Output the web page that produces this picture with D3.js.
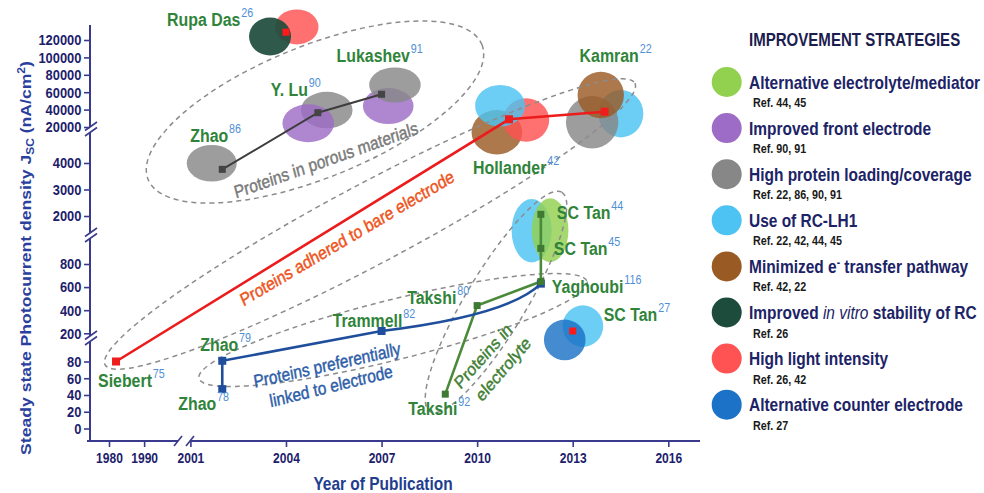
<!DOCTYPE html>
<html><head><meta charset="utf-8">
<script src="https://cdn.jsdelivr.net/npm/d3@7"></script>
<style>
body{margin:0;background:#fff}
svg{display:block}
text{font-family:"Liberation Sans",Arial,Helvetica,sans-serif}
</style>
</head><body>
<svg id="chart" width="984" height="493"></svg>
<script>
// ---------------- DATA ----------------
const xTickYears  = [1980, 1990, 2001, 2004, 2007, 2010, 2013, 2016];
const xMinorYears = [1985, 1995, 2002.5, 2005.5, 2008.5, 2011.5, 2014.5];
const yTickValues = [0, 20, 40, 60, 80, 200, 400, 600, 800, 2000, 3000, 4000, 20000, 40000, 60000, 80000, 100000, 120000];
const yMinorValues = [10, 30, 50, 70, 90, 100, 300, 500, 700, 900, 1000, 2500, 3500, 4500, 5000, 30000, 50000, 70000, 90000, 110000, 130000];

// Proteins adhered to bare electrode (red)
const redYear = [1982, 2011, 2014];
const redJsc  = [80, 28850, 37590];
const redName = ["Siebert", "Hollander", "Kamran"];
const redRef  = ["75", "42", "22"];
// Proteins in porous materials (grey)
const greyYear = [2002, 2005, 2007];
const greyJsc  = [3760, 36440, 57590];
const greyName = ["Zhao", "Y. Lu", "Lukashev"];
const greyRef  = ["86", "90", "91"];
// Proteins preferentially linked to electrode (blue)
const blueYear = [2002, 2002, 2007, 2012];
const blueJsc  = [47, 83, 220, 630];
const blueName = ["Zhao", "Zhao", "Trammell", ""];
const blueRef  = ["78", "79", "82", ""];
// Proteins in electrolyte (green)
const greenYear = [2009, 2010, 2012, 2012, 2012];
const greenJsc  = [41, 440, 648, 935, 2064];
const greenName = ["Takshi", "Takshi", "Yaghoubi", "SC Tan", "SC Tan"];
const greenRef  = ["92", "80", "116", "45", "44"];
// Single studies (red markers)
const soloYear = [2004, 2013];
const soloJsc  = [129000, 220];
const soloName = ["Rupa Das", "SC Tan"];
const soloRef  = ["26", "27"];

// Improvement-strategy bubbles
const bubbleStrategy = ["light","stability","loading","loading","front","front","loading","transfer","light","rclh1","rclh1","loading","transfer","rclh1","electrolyte","rclh1","counter"];
const bubbleYear = [2004.34, 2003.50, 2001.67, 2005.28, 2004.70, 2007.21, 2007.42, 2010.62, 2011.54, 2010.72, 2014.51, 2013.61, 2013.88, 2011.71, 2012.29, 2013.32, 2012.75];
const bubbleJsc  = [135000, 124000, 3990, 39500, 24250, 44100, 68300, 17700, 28000, 44400, 35300, 25500, 56800, 1410, 1430, 262, 172];

// Legend
const legendKeys  = ["electrolyte","front","loading","rclh1","transfer","stability","light","counter"];
const legendNames = ["Alternative electrolyte/mediator","Improved front electrode","High protein loading/coverage","Use of RC-LH1","Minimized e^- transfer pathway","Improved _in vitro_ stability of RC","High light intensity","Alternative counter electrode"];
const legendRefs  = ["Ref. 44, 45","Ref. 90, 91","Ref. 22, 86, 90, 91","Ref.  22, 42, 44, 45","Ref. 42, 22","Ref. 26","Ref. 26, 42","Ref. 27"];
const legendTitle = "IMPROVEMENT STRATEGIES";

const groupLabels = ["Proteins in porous materials", "Proteins adhered to bare electrode", "Proteins preferentially", "linked to  electrode", "Proteins in", "electrolyte"];

// ---------------- STYLE / LAYOUT ----------------
const SQ = 0.86;
const AXIS = "#3a3a8c", TICKTXT = "#1d1d6c";
const colors = {electrolyte:"#92d050", front:"#9c6cc6", loading:"#878787", rclh1:"#4cc3f2", transfer:"#9a5a24", stability:"#1d4c3c", light:"#ff5252", counter:"#1b72c6"};
const bubbleSize = [[21.7,17.5],[21,19],[25,18.3],[25.8,18.3],[25.8,19],[25.3,18],[25.8,17.5],[25.3,22.2],[23,21.7],[25,20.8],[22.5,23.7],[26.2,26.2],[23.2,23.3],[20,31.7],[18.3,32],[20.3,20.8],[20.8,20.3]];

const svg = d3.select("#chart");
const x = d3.scaleLinear().domain([1980, 1995, 2001, 2016]).range([109, 161.7, 190.4, 668.3]);
const y = d3.scaleLinear().domain([0, 80, 200, 800, 1000, 2000, 4000, 20000, 120000])
  .range([428.5, 361.5, 333.3, 264, 240.9, 216, 163, 127, 40]);
const X0 = 90, Y0 = 441;

function sq(sel, px, py, rot) {
  sel.attr("transform", `translate(${px},${py}) scale(${SQ},1)` + (rot ? ` rotate(${rot})` : ""));
  return sel;
}

// ---------- bubbles ----------
const gB = svg.append("g");
bubbleStrategy.forEach((s, i) => {
  gB.append("ellipse")
    .attr("cx", x(bubbleYear[i])).attr("cy", y(bubbleJsc[i]))
    .attr("rx", bubbleSize[i][0]).attr("ry", bubbleSize[i][1])
    .attr("fill", colors[s]).attr("fill-opacity", s === "stability" ? 0.92 : 0.82);
});

// ---------- dashed group ellipses ----------
const groups = [
  {cx:315, cy:112, rx:180, ry:66, rot:-22},
  {cx:370, cy:224, rx:300, ry:40, rot:-28},
  {cx:393, cy:330, rx:200, ry:30, rot:-14},
  {cx:496, cy:302, rx:128, ry:30, rot:-59}
];
svg.append("g").selectAll("ellipse").data(groups).join("ellipse")
  .attr("transform", d => `translate(${d.cx},${d.cy}) rotate(${d.rot})`)
  .attr("rx", d => d.rx).attr("ry", d => d.ry)
  .attr("fill", "none").attr("stroke", "#8c8c8c").attr("stroke-width", 1.5).attr("stroke-dasharray", "5,4");

// ---------- axes ----------
const yAxisG = svg.append("g").attr("transform", `translate(${X0},0)`);
yAxisG.call(d3.axisLeft(y).tickValues(yMinorValues).tickSize(4).tickFormat(""));
yAxisG.call(d3.axisLeft(y).tickValues(yTickValues).tickSize(6).tickPadding(4).tickFormat(d3.format("d")));
yAxisG.selectAll(".domain").remove();
yAxisG.selectAll("line").attr("stroke", AXIS).attr("stroke-width", 1.6);
yAxisG.selectAll("text").attr("transform", `scale(${SQ},1)`).attr("fill", TICKTXT)
  .style("font-size", "15px").style("font-weight", "bold");

const xAxisG = svg.append("g").attr("transform", `translate(0,${Y0})`);
xAxisG.call(d3.axisBottom(x).tickValues(xMinorYears).tickSize(-4).tickFormat(""));
xAxisG.call(d3.axisBottom(x).tickValues(xTickYears).tickSize(6).tickPadding(6).tickFormat(d3.format("d")));
xAxisG.selectAll(".domain").remove();
xAxisG.selectAll("line").attr("stroke", AXIS).attr("stroke-width", 1.6);
xAxisG.selectAll("text").attr("transform", `scale(${SQ},1)`).attr("fill", TICKTXT)
  .style("font-size", "14px").style("font-weight", "bold");

// axis lines with breaks
const yBreaks = [129, 235, 338];
const yStops = [25, ...yBreaks.flatMap(b => [b - 2, b + 3.5]), Y0];
for (let i = 0; i < yStops.length; i += 2) {
  svg.append("line").attr("x1", X0).attr("x2", X0).attr("y1", yStops[i]).attr("y2", yStops[i + 1])
    .attr("stroke", AXIS).attr("stroke-width", 2);
}
yBreaks.forEach(b => {
  [[1.5, -7], [7, -1.5]].forEach(([a, c]) => {
    svg.append("line").attr("x1", X0 - 5).attr("y1", b + a).attr("x2", X0 + 7).attr("y2", b + c)
      .attr("stroke", AXIS).attr("stroke-width", 1.6);
  });
});
svg.append("line").attr("x1", X0 - 3).attr("x2", 178).attr("y1", Y0).attr("y2", Y0).attr("stroke", AXIS).attr("stroke-width", 2);
svg.append("line").attr("x1", 190).attr("x2", 700).attr("y1", Y0).attr("y2", Y0).attr("stroke", AXIS).attr("stroke-width", 2);
[174, 186].forEach(bx => {
  svg.append("line").attr("x1", bx).attr("y1", Y0 + 5).attr("x2", bx + 8).attr("y2", Y0 - 5)
    .attr("stroke", AXIS).attr("stroke-width", 1.6);
});

// axis titles
const yt = svg.append("text").attr("text-anchor", "middle").attr("fill", "#2b3f9e")
  .style("font-size", "17.6px").style("font-weight", "bold");
sq(yt, 31, 258, -90);
yt.append("tspan").text("Steady state Photocurrent density J");
yt.append("tspan").text("SC").style("font-size", "12px").attr("dy", 4);
yt.append("tspan").text(" (nA/cm").attr("dy", -4);
yt.append("tspan").text("2").style("font-size", "12px").attr("dy", -7);
yt.append("tspan").text(")").attr("dy", 7);

const xt = svg.append("text").attr("text-anchor", "middle").attr("fill", "#1f3e8e")
  .style("font-size", "18px").style("font-weight", "bold").text("Year of Publication");
sq(xt, 383, 490);

// ---------- group labels ----------
const glStyle = [
  {x:326, y:160, rot:-17, fill:"#7a7a7a"},
  {x:347, y:238, rot:-27, fill:"#ee5420"},
  {x:327, y:365, rot:-11, fill:"#2e5ea8"},
  {x:331, y:386, rot:-12, fill:"#2e5ea8"},
  {x:483, y:356, rot:-44, fill:"#3f7f35"},
  {x:503, y:369, rot:-45, fill:"#3f7f35"}
];
groupLabels.forEach((t, i) => {
  const s = glStyle[i];
  const el = svg.append("text").attr("text-anchor", "middle").attr("dy", "0.35em")
    .attr("fill", s.fill).attr("stroke", s.fill).attr("stroke-width", 0.45)
    .style("font-size", "18px").text(t);
  sq(el, s.x, s.y, s.rot);
});

// ---------- lines ----------
const pts = (ys, vs) => ys.map((yy, i) => [x(yy), y(vs[i])]);
const line = d3.line();
const redP = pts(redYear, redJsc), greyP = pts(greyYear, greyJsc), blueP = pts(blueYear, blueJsc), greenP = pts(greenYear, greenJsc), soloP = pts(soloYear, soloJsc);

svg.append("path").attr("d", line(greyP)).attr("fill", "none").attr("stroke", "#3d3d3d").attr("stroke-width", 2);
svg.append("path").attr("d", line(redP)).attr("fill", "none").attr("stroke", "#ec1c1c").attr("stroke-width", 2.6);
svg.append("path").attr("d", line(greenP)).attr("fill", "none").attr("stroke", "#4a8a3a").attr("stroke-width", 2.6);
// blue: straight to Trammell, curved to Yaghoubi
const bp = d3.path();
bp.moveTo(...blueP[0]); bp.lineTo(...blueP[1]); bp.lineTo(...blueP[2]);
const [x0, y0] = blueP[2], [x2, y2] = blueP[3];
bp.quadraticCurveTo(x0 + 0.8 * (x2 - x0), y0 + 0.33 * (y2 - y0), x2, y2);
svg.append("path").attr("d", bp.toString()).attr("fill", "none").attr("stroke", "#1f4e9c").attr("stroke-width", 2.6);

// markers
function markers(P, col, s) {
  svg.append("g").selectAll("rect").data(P).join("rect")
    .attr("x", d => d[0] - s / 2).attr("y", d => d[1] - s / 2).attr("width", s).attr("height", s).attr("fill", col);
}
markers(greyP, "#444", 7);
markers(redP, "#ee1c1c", 8);
markers(blueP, "#1f4e9c", 8);
markers(greenP, "#3f7a35", 7);
markers(soloP, "#ff1a1a", 7);

// ---------- author labels ----------
const labelOffset = {"75":[-18,25],"42":[-36,55],"22":[-25,-50],"86":[-32,-27],"90":[-47,-17],"91":[-45,-32],
  "78":[-44,21],"79":[-22,-10],"82":[-49,-4],"116":[11,11],"92":[-37,21],"80":[-70,-2],"45":[13,7],"44":[16,5],"26":[-119,-6],"27":[31,-10]};
function labels(P, names, refs) {
  P.forEach((p, i) => {
    if (!names[i]) return;
    const off = labelOffset[refs[i]];
    const g = svg.append("g");
    sq(g, p[0] + off[0], p[1] + off[1]);
    const t = g.append("text").attr("fill", "#2f843a").style("font-size", "18.5px").style("font-weight", "bold").text(names[i]);
    const w = t.node().getComputedTextLength();
    g.append("text").attr("x", w + 1).attr("y", -9).attr("fill", "#4f8fd6").style("font-size", "12.5px").text(refs[i]);
  });
}
labels(redP, redName, redRef);
labels(greyP, greyName, greyRef);
labels(blueP, blueName, blueRef);
labels(greenP, greenName, greenRef);
labels(soloP, soloName, soloRef);

// ---------- legend ----------
const LEGX = 749;
const tt = svg.append("text").attr("fill", "#1b1d4f").style("font-size", "17.5px").style("font-weight", "bold").text(legendTitle);
sq(tt, LEGX, 46);
legendKeys.forEach((k, i) => {
  const cy = 82 + 46.1 * i;
  svg.append("circle").attr("cx", 726.7).attr("cy", cy).attr("r", 15).attr("fill", colors[k]);
  const t = svg.append("text").attr("fill", "#1c2366").style("font-size", "18px").style("font-weight", "bold");
  sq(t, LEGX, cy + 6.5);
  const name = legendNames[i];
  const parts = name.split(/(\^-|_[^_]+_)/).filter(s => s.length);
  let afterSup = false;
  parts.forEach(pt => {
    if (pt === "^-") { t.append("tspan").text("-").attr("dy", -6).style("font-size", "12px"); afterSup = true; }
    else if (pt.startsWith("_")) t.append("tspan").text(pt.slice(1, -1)).style("font-style", "italic").style("font-weight", "normal");
    else {
      const ts = t.append("tspan").text(pt);
      if (afterSup) { ts.attr("dy", 6); afterSup = false; }
    }
  });
  const r = svg.append("text").attr("fill", "#1a1a1a").style("font-size", "12.5px").style("font-weight", "bold").text(legendRefs[i]);
  sq(r, 753, cy + 25);
});
</script>
</body></html>
